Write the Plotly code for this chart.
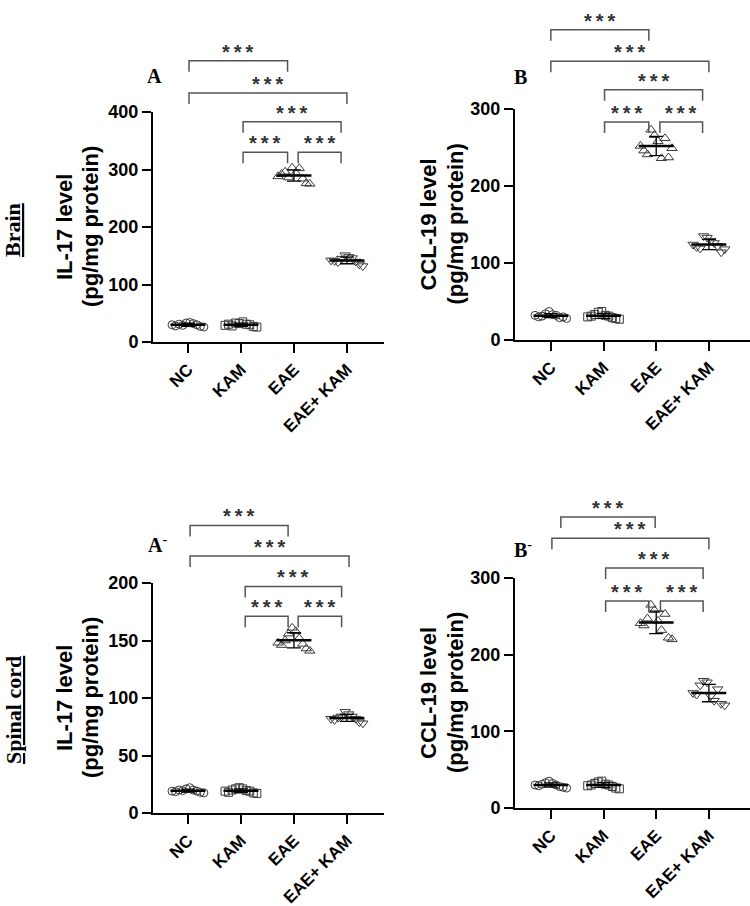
import numpy as np
import plotly.graph_objects as go

# ---------------- data ----------------
categories = ["NC", "KAM", "EAE", "EAE+ KAM"]

# Brain, IL-17 (pg/mg protein)
brain_il17_nc = [30, 28, 31, 29, 33, 34, 32, 30, 27, 26]
brain_il17_kam = [29, 31, 28, 33, 32, 35, 31, 30, 27, 26]
brain_il17_eae = [288, 292, 296, 286, 303, 294, 302, 284, 276, 275]
brain_il17_eae_kam = [142, 141, 139, 145, 151, 148, 146, 140, 135, 132]

# Brain, CCL-19 (pg/mg protein)
brain_ccl19_nc = [32, 30, 31, 34, 37, 33, 32, 29, 30, 28]
brain_ccl19_kam = [30, 31, 33, 36, 37, 32, 31, 29, 28, 27]
brain_ccl19_eae = [252, 246, 241, 273, 266, 258, 236, 262, 237, 249]
brain_ccl19_eae_kam = [124, 121, 119, 135, 133, 129, 126, 122, 114, 118]

# Spinal cord, IL-17 (pg/mg protein)
spinal_il17_nc = [19, 18.5, 20, 19.5, 21, 22, 20, 19, 18, 17.5]
spinal_il17_kam = [19, 18, 20, 21, 22, 21, 19.5, 19, 17.5, 17]
spinal_il17_eae = [148, 146, 150, 156, 161, 158, 152, 147, 143, 141]
spinal_il17_eae_kam = [82, 81, 83, 84, 88, 86, 84, 82, 79, 78]

# Spinal cord, CCL-19 (pg/mg protein)
spinal_ccl19_nc = [30, 29, 31, 33, 35, 32, 30, 28, 27, 26]
spinal_ccl19_kam = [29, 30, 32, 34, 35, 31, 30, 28, 26, 25]
spinal_ccl19_eae = [241, 238, 247, 265, 258, 244, 232, 253, 222, 220]
spinal_ccl19_eae_kam = [150, 148, 160, 166, 164, 146, 140, 155, 136, 134]

y_ticks_brain_il17 = [0, 100, 200, 300, 400]
y_ticks_ccl19 = [0, 100, 200, 300]
y_ticks_spinal_il17 = [0, 50, 100, 150, 200]

significance = "*\u2009*\u2009*"

# ---------------- layout config ----------------
W, H = 750, 906
SANS = "Liberation Sans, Arial, sans-serif"
SERIF = "Liberation Serif, Times New Roman, serif"
symbols = ["circle-open", "square-open", "triangle-up-open", "triangle-down-open"]
msizes = [8, 8, 9, 9]

panels = [
    dict(groups=[brain_il17_nc, brain_il17_kam, brain_il17_eae, brain_il17_eae_kam],
         yticks=y_ticks_brain_il17, xpx=(153, 384), ypx=(112, 342), xr=(-0.66, 3.70),
         title=("IL-17 level", "(pg/mg protein)"), title_x=(64, 90),
         label="A", label_xy=(154, 76),
         brackets=[(0.02, 1.88, 489), (0.02, 3.0, 433), (1.04, 2.89, 383),
                   (1.04, 1.88, 330), (2.08, 2.89, 330)]),
    dict(groups=[brain_ccl19_nc, brain_ccl19_kam, brain_ccl19_eae, brain_ccl19_eae_kam],
         yticks=y_ticks_ccl19, xpx=(515, 750), ypx=(109, 340), xr=(-0.68, 3.78),
         title=("CCL-19 level", "(pg/mg protein)"), title_x=(428, 455),
         label="B", label_xy=(520, 77),
         brackets=[(0.0, 1.86, 403), (0.0, 3.0, 362), (1.02, 2.88, 325),
                   (1.02, 1.86, 283), (2.07, 2.88, 283)]),
    dict(groups=[spinal_il17_nc, spinal_il17_kam, spinal_il17_eae, spinal_il17_eae_kam],
         yticks=y_ticks_spinal_il17, xpx=(153, 384), ypx=(583, 813), xr=(-0.66, 3.70),
         title=("IL-17 level", "(pg/mg protein)"), title_x=(64, 90),
         label="A<sup>-</sup>", label_xy=(157, 544),
         brackets=[(0.04, 1.89, 250), (0.04, 3.04, 223.5), (1.08, 2.9, 197),
                   (1.08, 1.89, 171), (2.08, 2.9, 171)]),
    dict(groups=[spinal_ccl19_nc, spinal_ccl19_kam, spinal_ccl19_eae, spinal_ccl19_eae_kam],
         yticks=y_ticks_ccl19, xpx=(515, 750), ypx=(578, 808), xr=(-0.68, 3.78),
         title=("CCL-19 level", "(pg/mg protein)"), title_x=(428, 455),
         label="B<sup>-</sup>", label_xy=(523, 549),
         brackets=[(0.19, 1.98, 379.5), (0.02, 3.0, 352), (1.04, 2.89, 313),
                   (1.04, 1.86, 270), (2.08, 2.89, 270)]),
]

fig = go.Figure()
shapes, annotations = [], []
layout = dict(width=W, height=H, margin=dict(l=0, r=0, t=0, b=0, pad=0, autoexpand=False),
              paper_bgcolor="white", plot_bgcolor="white", showlegend=False)

for k, p in enumerate(panels):
    sfx = "" if k == 0 else str(k + 1)
    xa, ya = "x" + sfx, "y" + sfx
    ydom = (1 - p["ypx"][1] / H, 1 - p["ypx"][0] / H)
    yr = (p["yticks"][0], p["yticks"][-1])

    # individual points
    for i, vals in enumerate(p["groups"]):
        n = len(vals)
        xs = i + np.linspace(-0.3, 0.3, n)
        fig.add_trace(go.Scatter(
            x=xs, y=vals, mode="markers", xaxis=xa, yaxis=ya, hoverinfo="skip",
            marker=dict(symbol=symbols[i], size=msizes[i], color="#3a3a3a",
                        line=dict(width=1, color="#3a3a3a"))))
    # mean line + SD
    for i, vals in enumerate(p["groups"]):
        m = float(np.mean(vals))
        sd = float(np.std(vals, ddof=1))
        fig.add_trace(go.Scatter(
            x=[i - 0.33, i + 0.33], y=[m, m], mode="lines", xaxis=xa, yaxis=ya,
            hoverinfo="skip", line=dict(color="black", width=2.5)))
        fig.add_trace(go.Scatter(
            x=[i], y=[m], mode="markers", xaxis=xa, yaxis=ya, hoverinfo="skip",
            marker=dict(size=1, color="rgba(0,0,0,0)"),
            error_y=dict(type="data", array=[sd], visible=True, color="black",
                         thickness=1.3, width=7)))

    layout["xaxis" + sfx] = dict(
        domain=[p["xpx"][0] / W, p["xpx"][1] / W], range=list(p["xr"]), anchor=ya,
        tickmode="array", tickvals=list(range(len(categories))), ticktext=categories,
        tickangle=-45, showline=True, linecolor="black", linewidth=2,
        ticks="outside", ticklen=9, tickwidth=2, tickcolor="black",
        showgrid=False, zeroline=False, automargin=False,
        tickfont=dict(family=SANS, size=17, color="black", weight="bold"))
    layout["yaxis" + sfx] = dict(
        domain=list(ydom), range=list(yr), anchor=xa,
        tickmode="array", tickvals=p["yticks"],
        showline=True, linecolor="black", linewidth=2,
        ticks="outside", ticklen=9, tickwidth=2, tickcolor="black",
        showgrid=False, zeroline=False, automargin=False,
        tickfont=dict(family=SANS, size=18, color="black", weight="bold"))

    # y-axis titles (two lines)
    ycen = 1 - (p["ypx"][0] + p["ypx"][1]) / 2 / H
    for line_txt, tx in zip(p["title"], p["title_x"]):
        annotations.append(dict(
            text=line_txt, x=tx / W, y=ycen, xref="paper", yref="paper",
            xanchor="center", yanchor="middle", textangle=-90, showarrow=False,
            font=dict(family=SANS, size=22, color="black", weight="bold")))

    # panel label
    annotations.append(dict(
        text=p["label"], x=p["label_xy"][0] / W, y=1 - p["label_xy"][1] / H,
        xref="paper", yref="paper", xanchor="center", yanchor="middle",
        showarrow=False, font=dict(family=SERIF, size=20, color="black", weight="bold")))

    # significance brackets
    def to_paper(v):
        return ydom[0] + (v - yr[0]) / (yr[1] - yr[0]) * (ydom[1] - ydom[0])

    leg = 11 / H
    for (x0, x1, lvl) in p["brackets"]:
        yt = to_paper(lvl)
        shapes.append(dict(
            type="path", xref=xa, yref="paper",
            path=f"M {x0},{yt - leg} L {x0},{yt} L {x1},{yt} L {x1},{yt - leg}",
            line=dict(color="#555555", width=1.5)))
        annotations.append(dict(
            text=significance, x=(x0 + x1) / 2, y=yt, xref=xa, yref="paper",
            xanchor="center", yanchor="bottom", showarrow=False, yshift=-4,
            font=dict(family=SANS, size=20, color="#333333", weight="bold")))

# row labels
annotations.append(dict(
    text="<u>Brain</u>", x=13 / W, y=1 - 230 / H, xref="paper", yref="paper",
    xanchor="center", yanchor="middle", textangle=-90, showarrow=False,
    font=dict(family=SERIF, size=22, color="black", weight="bold")))
annotations.append(dict(
    text="<u>Spinal cord</u>", x=13 / W, y=1 - 710 / H, xref="paper", yref="paper",
    xanchor="center", yanchor="middle", textangle=-90, showarrow=False,
    font=dict(family=SERIF, size=22, color="black", weight="bold")))

layout["shapes"] = shapes
layout["annotations"] = annotations
fig.update_layout(**layout)
fig.write_html("out.html")
